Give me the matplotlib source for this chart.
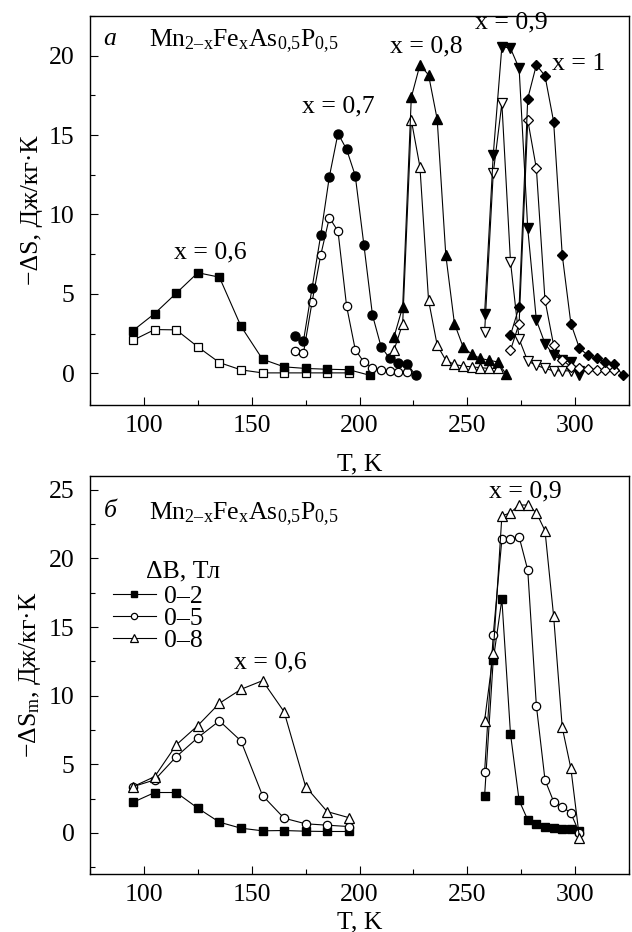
import matplotlib
matplotlib.use('Agg')
import matplotlib.pyplot as plt
from matplotlib.ticker import MultipleLocator

plt.rcParams['font.family'] = ['Liberation Serif', 'DejaVu Serif']
plt.rcParams['mathtext.fontset'] = 'custom'
plt.rcParams['mathtext.rm'] = 'Liberation Serif'
plt.rcParams['mathtext.it'] = 'Liberation Serif:italic'
plt.rcParams['axes.linewidth'] = 1.0

# --- panel a: -dS vs T for several x
t06 = [95, 105, 115, 125, 135, 145, 155, 165, 175, 185, 195, 205]
s06_full = [2.69, 3.76, 5.04, 6.33, 6.05, 2.96, 0.88, 0.40, 0.30, 0.25, 0.22, -0.14]
t06o = [95, 105, 115, 125, 135, 145, 155, 165, 175, 185, 195]
s06_open = [2.08, 2.75, 2.73, 1.66, 0.67, 0.21, 0.02, 0.02, 0.02, 0.02, 0.02]

t07 = [170, 174, 178, 182, 186, 190, 194, 198, 202, 206, 210, 214, 218, 222, 226]
s07_full = [2.35, 2.04, 5.38, 8.70, 12.38, 15.1, 14.1, 12.45, 8.10, 3.66, 1.66, 0.93, 0.65, 0.61, -0.13]
t07o = [170, 174, 178, 182, 186, 190, 194, 198, 202, 206, 210, 214, 218, 222]
s07_open = [1.39, 1.28, 4.50, 7.44, 9.80, 8.95, 4.22, 1.49, 0.70, 0.35, 0.20, 0.15, 0.10, 0.05]

t08 = [216, 220, 224, 228, 232, 236, 240, 244, 248, 252, 256, 260, 264, 268]
s08_full = [2.29, 4.18, 17.38, 19.42, 18.79, 16.0, 7.44, 3.13, 1.66, 1.20, 0.93, 0.82, 0.71, -0.06]
t08o = [216, 220, 224, 228, 232, 236, 240, 244, 248, 252, 256, 260, 264]
s08_open = [1.45, 3.13, 15.95, 13.0, 4.60, 1.77, 0.82, 0.55, 0.45, 0.40, 0.35, 0.30, 0.30]

t09 = [258, 262, 266, 270, 274, 278, 282, 286, 290, 294, 298, 302]
s09_full = [3.76, 13.75, 20.58, 20.47, 19.2, 9.12, 3.34, 1.87, 1.13, 0.82, 0.71, -0.13]
s09_open = [2.60, 12.6, 17.0, 7.02, 2.15, 0.76, 0.50, 0.30, 0.15, 0.15, 0.15, 0.15]

t10 = [270, 274, 278, 282, 286, 290, 294, 298, 302, 306, 310, 314, 318, 322]
s10_full = [2.40, 4.18, 17.3, 19.42, 18.73, 15.85, 7.44, 3.13, 1.56, 1.13, 0.93, 0.71, 0.61, -0.13]
t10o = [270, 274, 278, 282, 286, 290, 294, 298, 302, 306, 310, 314, 318]
s10_open = [1.45, 3.13, 15.95, 12.9, 4.60, 1.77, 0.85, 0.40, 0.30, 0.25, 0.20, 0.20, 0.20]

# --- panel b: -dSm vs T for three field changes
tb06 = [95, 105, 115, 125, 135, 145, 155, 165, 175, 185, 195]
b06_2 = [2.23, 2.94, 2.94, 1.80, 0.78, 0.34, 0.15, 0.17, 0.12, 0.10, 0.10]
b06_5 = [3.37, 3.86, 5.55, 6.94, 8.16, 6.70, 2.72, 1.07, 0.66, 0.56, 0.46]
b06_8 = [3.37, 4.10, 6.41, 7.82, 9.44, 10.46, 11.09, 8.83, 3.37, 1.55, 1.11]

tb09 = [258, 262, 266, 270, 274, 278, 282, 286, 290, 294, 298, 302]
b09_2 = [2.72, 12.6, 17.02, 7.21, 2.36, 0.95, 0.66, 0.46, 0.34, 0.29, 0.27, 0.17]
b09_5 = [4.47, 14.42, 21.39, 21.39, 21.57, 19.15, 9.27, 3.86, 2.28, 1.92, 1.43, -0.02]
b09_8 = [8.18, 13.09, 23.09, 23.33, 23.89, 23.89, 23.33, 22.02, 15.8, 7.68, 4.70, -0.39]

field_labels = ['0–2', '0–5', '0–8']

formula = r'Mn$_{\mathrm{2–x}}$Fe$_{\mathrm{x}}$As$_{\mathrm{0{,}5}}$P$_{\mathrm{0{,}5}}$'
fs = 18.5
lw = 0.8

fig = plt.figure(figsize=(6.32, 9.32), dpi=100)
ax1 = fig.add_axes([0.1424, 0.5655, 0.853, 0.4173])
ax2 = fig.add_axes([0.1424, 0.0622, 0.853, 0.427])


def full(ax, t, s, m, ms):
    ax.plot(t, s, '-', color='black', lw=lw, marker=m, ms=ms, mfc='black', mec='black')


def hollow(ax, t, s, m, ms):
    ax.plot(t, s, '-', color='black', lw=lw, marker=m, ms=ms, mfc='white', mec='black', mew=0.9)


hollow(ax1, t06o, s06_open, 's', 6)
full(ax1, t06, s06_full, 's', 6)
hollow(ax1, t07o, s07_open, 'o', 6)
full(ax1, t07, s07_full, 'o', 6.5)
hollow(ax1, t08o, s08_open, '^', 7)
full(ax1, t08, s08_full, '^', 7)
hollow(ax1, t09, s09_open, 'v', 7)
full(ax1, t09, s09_full, 'v', 7)
hollow(ax1, t10o, s10_open, 'D', 5.5)
full(ax1, t10, s10_full, 'D', 5.5)

ax1.text(131, 7.6, 'x = 0,6', fontsize=fs, ha='center', va='center')
ax1.text(190, 16.8, 'x = 0,7', fontsize=fs, ha='center', va='center')
ax1.text(231, 20.6, 'x = 0,8', fontsize=fs, ha='center', va='center')
ax1.text(270.5, 22.1, 'x = 0,9', fontsize=fs, ha='center', va='center')
ax1.text(301.5, 19.5, 'x = 1', fontsize=fs, ha='center', va='center')
ax1.text(0.025, 0.97, 'а', transform=ax1.transAxes, fontsize=fs, style='italic', va='top')
ax1.text(0.11, 0.97, formula, transform=ax1.transAxes, fontsize=fs, va='top')

ax1.set_xlim(75, 325)
ax1.set_ylim(-2, 22.5)
ax1.yaxis.set_major_locator(MultipleLocator(5))
ax1.yaxis.set_minor_locator(MultipleLocator(2.5))
ax1.set_xlabel('T, K', fontsize=fs, labelpad=12)
ax1.set_ylabel('−ΔS, Дж/кг·К', fontsize=fs, labelpad=4)

l2, = ax2.plot(tb06, b06_2, '-', color='black', lw=lw, marker='s', ms=6, mfc='black', mec='black')
l5, = ax2.plot(tb06, b06_5, '-', color='black', lw=lw, marker='o', ms=6, mfc='white', mec='black', mew=0.9)
l8, = ax2.plot(tb06, b06_8, '-', color='black', lw=lw, marker='^', ms=7, mfc='white', mec='black', mew=0.9)
ax2.plot(tb09, b09_2, '-', color='black', lw=lw, marker='s', ms=6, mfc='black', mec='black')
ax2.plot(tb09, b09_5, '-', color='black', lw=lw, marker='o', ms=6, mfc='white', mec='black', mew=0.9)
ax2.plot(tb09, b09_8, '-', color='black', lw=lw, marker='^', ms=7, mfc='white', mec='black', mew=0.9)

ax2.text(158.5, 12.45, 'x = 0,6', fontsize=fs, ha='center', va='center')
ax2.text(277, 24.9, 'x = 0,9', fontsize=fs, ha='center', va='center')
ax2.text(0.025, 0.94, 'б', transform=ax2.transAxes, fontsize=fs, style='italic', va='top')
ax2.text(0.11, 0.94, formula, transform=ax2.transAxes, fontsize=fs, va='top')
ax2.text(0.103, 0.76, 'ΔB, Тл', transform=ax2.transAxes, fontsize=fs, va='center')
ax2.legend([l2, l5, l8], field_labels, loc='upper left', bbox_to_anchor=(0.042, 0.725),
           frameon=False, fontsize=fs, handlelength=1.7, handletextpad=0.3,
           labelspacing=-0.05, markerscale=0.75, borderaxespad=0, borderpad=0)

ax2.set_xlim(75, 325)
ax2.set_ylim(-3, 26)
ax2.yaxis.set_major_locator(MultipleLocator(5))
ax2.yaxis.set_minor_locator(MultipleLocator(2.5))
ax2.set_xlabel('T, K', fontsize=fs, labelpad=4)
ax2.set_ylabel('−ΔS$_{\\mathrm{m}}$, Дж/кг·К', fontsize=fs, labelpad=4)

for ax in (ax1, ax2):
    ax.xaxis.set_major_locator(MultipleLocator(50))
    ax.xaxis.set_minor_locator(MultipleLocator(25))
    ax.tick_params(which='both', direction='in', top=False, right=False, labelsize=fs, width=0.8)
    ax.tick_params(which='major', length=6)
    ax.tick_params(which='minor', length=3.5)
    ax.tick_params(axis='y', pad=11)
    ax.tick_params(axis='x', pad=7)

fig.savefig('out.png', dpi=100)
